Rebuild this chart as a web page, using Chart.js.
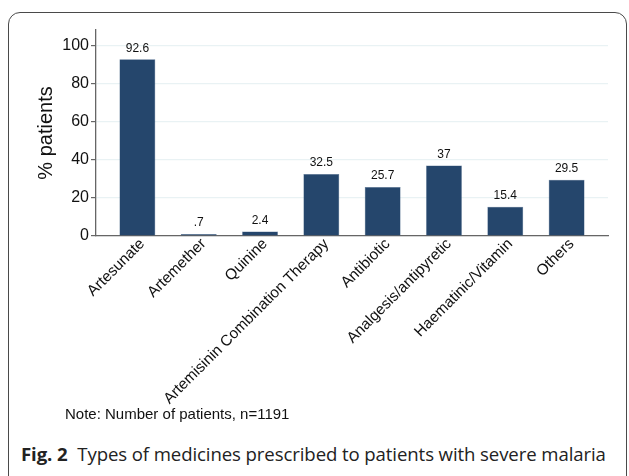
<!DOCTYPE html>
<html>
<head>
<meta charset="utf-8">
<script src="https://cdn.jsdelivr.net/npm/chart.js@4/dist/chart.umd.min.js"></script>
<style>
  html, body { margin: 0; padding: 0; background: #fff; }
  body { width: 629px; height: 476px; position: relative; overflow: hidden; }
  #frame {
    position: absolute; left: 8px; top: 12px; width: 619px; height: 476px;
    border: 1.3px solid #4a4a4a; border-radius: 12px; box-sizing: border-box;
  }
  #wrap { position: absolute; left: 0; top: 0; width: 629px; height: 410px; }
  #note {
    position: absolute; left: 65px; top: 405px;
    font: 15px "Liberation Sans", Arial, sans-serif; color: #111;
  }
  #caption {
    position: absolute; left: 21px; top: 441px; white-space: nowrap;
    font: 18.6px "Open Sans", sans-serif; color: #222; letter-spacing: -0.1px;
  }
  #caption b { font-weight: 700; margin-right: 5px; }
</style>
</head>
<body>
<div id="wrap"><canvas id="chart"></canvas></div>
<div id="note">Note: Number of patients, n=1191</div>
<div id="caption"><b>Fig. 2</b> Types of medicines prescribed to patients with severe malaria</div>
<div id="frame"></div>

<script>
// data
const categories = ["Artesunate", "Artemether", "Quinine", "Artemisinin Combination Therapy",
                    "Antibiotic", "Analgesis/antipyretic", "Haematinic/Vitamin", "Others"];
const percentPatients = [92.6, 0.7, 2.4, 32.5, 25.7, 37, 15.4, 29.5];
const yTicks = [0, 20, 40, 60, 80, 100];

// Stata style labels: .7 instead of 0.7
function fmt(v) {
    return String(v).replace(/^0\./, ".");
}

// value labels above the bars
const barLabels = {
    id: "barLabels",
    afterDatasetsDraw(chart) {
        const ctx = chart.ctx;
        const meta = chart.getDatasetMeta(0);
        ctx.save();
        ctx.font = '12px "Liberation Sans", Arial, sans-serif';
        ctx.fillStyle = "#111";
        ctx.textAlign = "center";
        ctx.textBaseline = "bottom";
        meta.data.forEach((bar, i) => {
            ctx.fillText(fmt(percentPatients[i]), bar.x, bar.y - 5);
        });
        ctx.restore();
    }
};

new Chart(document.getElementById("chart"), {
    type: "bar",
    data: {
        datasets: [{
            data: percentPatients.map((v, i) => ({ x: i, y: v })),
            backgroundColor: "#25466c",
            borderColor: "#4f6b8c",
            borderWidth: 0.5,
            minBarLength: 2,
            barPercentage: 0.9,
            categoryPercentage: 0.65
        }]
    },
    options: {
        responsive: true,
        maintainAspectRatio: false,
        animation: false,
        events: [],
        layout: { padding: { left: 30, top: 30, right: 21, bottom: 0 } },
        plugins: { legend: { display: false }, tooltip: { enabled: false } },
        scales: {
            x: {
                type: "linear",
                offset: false,
                min: -0.675,
                max: 7.675,
                afterBuildTicks: (s) => { s.ticks = categories.map((_, i) => ({ value: i })); },
                afterFit: (s) => { s.height = 174; },
                grid: { display: false, drawTicks: false, offset: false },
                border: { color: "#666", width: 1.3 },
                ticks: {
                    autoSkip: false,
                    minRotation: 45,
                    maxRotation: 45,
                    padding: -1,
                    labelOffset: 5,
                    color: "#111",
                    font: { family: '"Liberation Sans", Arial, sans-serif', size: 15.3 },
                    callback: (v) => categories[v]
                }
            },
            y: {
                min: 0,
                max: 108,
                afterBuildTicks: (s) => { s.ticks = yTicks.map(v => ({ value: v })); },
                afterFit: (s) => { s.width = 66; },
                grid: { color: "#e9f2f4", lineWidth: 1.2, tickLength: 5, tickColor: "#666" },
                border: { color: "#666", width: 1.3 },
                ticks: {
                    padding: 2,
                    color: "#111",
                    font: { family: '"Liberation Sans", Arial, sans-serif', size: 16 }
                },
                title: {
                    display: true,
                    text: "% patients",
                    color: "#111",
                    padding: { top: 4, bottom: 0 },
                    font: { family: '"Liberation Sans", Arial, sans-serif', size: 20 }
                }
            }
        }
    },
    plugins: [barLabels]
});
</script>
</body>
</html>
